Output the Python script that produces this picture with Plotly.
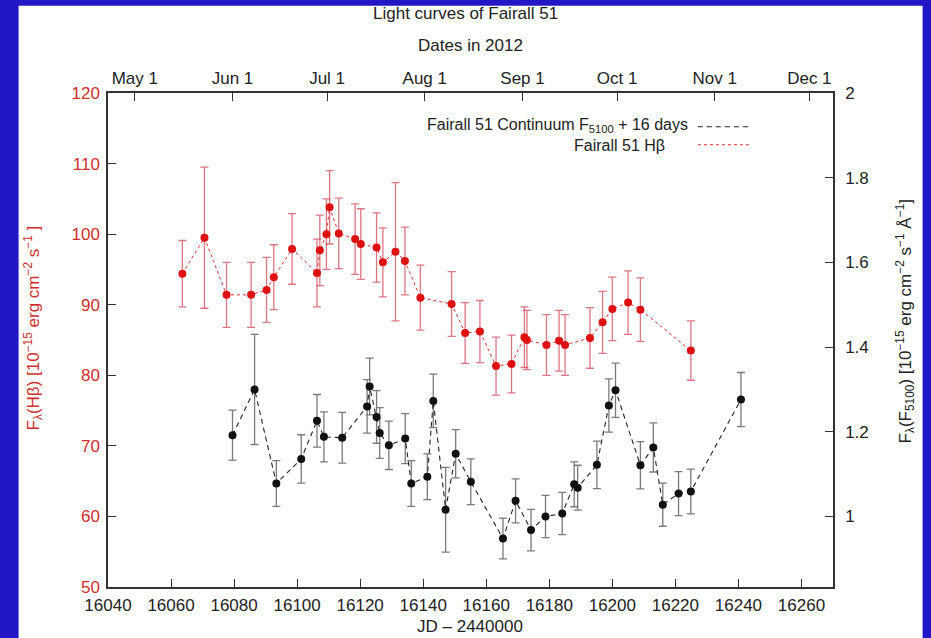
import plotly.graph_objects as go

# ---------------- data ----------------
hb_jd = [16063.6, 16070.6, 16077.6, 16085.4, 16090.3, 16092.6, 16098.4, 16106.3, 16107.2,
         16109.3, 16110.3, 16113.2, 16118.4, 16120.2, 16125.2, 16127.2, 16131.2, 16134.2,
         16139.1, 16149.0, 16153.3, 16158.0, 16163.1, 16168.0, 16172.1, 16172.9, 16179.1,
         16183.1, 16185.0, 16192.9, 16196.9, 16200.0, 16205.0, 16208.9, 16224.9]
hb_flux = [94.4, 99.5, 91.4, 91.4, 92.1, 93.9, 97.9, 94.5, 97.7,
           100.0, 103.8, 100.1, 99.3, 98.6, 98.1, 96.0, 97.5, 96.2,
           91.0, 90.1, 86.0, 86.2, 81.3, 81.6, 85.4, 85.0, 84.3,
           84.9, 84.3, 85.3, 87.5, 89.4, 90.3, 89.3, 83.5]
hb_err = [4.7, 10.0, 4.6, 4.6, 4.6, 4.6, 5.0, 4.8, 5.0,
          5.0, 5.2, 5.0, 5.0, 5.0, 4.9, 4.9, 9.8, 4.8,
          4.6, 4.6, 4.3, 4.4, 4.1, 4.1, 4.3, 4.2, 4.3,
          4.3, 4.3, 4.3, 4.4, 4.5, 4.5, 4.5, 4.2]

c_jd = [16079.5, 16086.5, 16093.4, 16101.3, 16106.3, 16108.5, 16114.3, 16122.2, 16123.0,
        16125.2, 16126.2, 16129.1, 16134.3, 16136.2, 16141.3, 16143.2, 16147.1, 16150.3,
        16155.1, 16165.3, 16169.3, 16174.2, 16178.8, 16184.1, 16187.9, 16189.0, 16195.1,
        16198.9, 16201.0, 16208.9, 16213.0, 16216.0, 16221.0, 16224.9, 16240.8]
c_flux = [1.192, 1.300, 1.078, 1.136, 1.226, 1.188, 1.186, 1.260, 1.307,
          1.235, 1.197, 1.168, 1.184, 1.078, 1.094, 1.273, 1.016, 1.148,
          1.082, 0.948, 1.037, 0.968, 1.000, 1.007, 1.076, 1.068, 1.122,
          1.262, 1.298, 1.121, 1.163, 1.028, 1.054, 1.059, 1.276]
c_err = [0.059, 0.13, 0.054, 0.057, 0.062, 0.059, 0.060, 0.063, 0.067,
         0.062, 0.060, 0.057, 0.059, 0.054, 0.054, 0.063, 0.10, 0.057,
         0.054, 0.048, 0.052, 0.049, 0.050, 0.050, 0.053, 0.053, 0.056,
         0.063, 0.064, 0.056, 0.058, 0.051, 0.052, 0.053, 0.064]

date_jd = [16048.5, 16079.5, 16109.5, 16140.5, 16171.5, 16201.5, 16232.5, 16262.5]
date_labels = ["May 1", "Jun 1", "Jul 1", "Aug 1", "Sep 1", "Oct 1", "Nov 1", "Dec 1"]

legend_cont = "Fairall 51 Continuum F<sub>5100</sub> + 16 days"
legend_hb = "Fairall 51 Hβ"

# ---------------- figure ----------------
FONT = "Liberation Sans, Arial, Helvetica, sans-serif"
RED = "#cf2e2e"
BLUE = "#2316c4"
FS = 17

fig = go.Figure()

fig.add_trace(go.Scatter(
    x=c_jd, y=c_flux, yaxis="y2", mode="lines+markers", name=legend_cont,
    line=dict(color="#222222", width=1.1, dash="5px,4px"),
    marker=dict(color="#111111", size=8),
    error_y=dict(type="data", array=c_err, color="#7a7a7a", thickness=1.3, width=4),
    showlegend=False,
))
fig.add_trace(go.Scatter(
    x=hb_jd, y=hb_flux, mode="lines+markers", name=legend_hb,
    line=dict(color="#e03030", width=1, dash="dot"),
    marker=dict(color="#dd1111", size=8),
    error_y=dict(type="data", array=hb_err, color="rgba(205,60,75,0.7)", thickness=1.3, width=4),
    showlegend=False,
))
# invisible trace anchoring the top date axis
fig.add_trace(go.Scatter(x=[date_jd[0]], y=[hb_flux[0]], xaxis="x2", mode="markers",
                         marker=dict(opacity=0), hoverinfo="skip", showlegend=False))

L, R, T, B = 107.5, 833.3, 93.3, 587.0
W, H = R - L, B - T


def px_x(p):
    return (p - L) / W


def px_y(p):
    return (B - p) / H


axis_common = dict(showgrid=False, zeroline=False, showline=True, linecolor="#333333",
                   linewidth=1.5, ticks="inside", ticklen=8, tickcolor="#333333",
                   tickwidth=1.2)

fig.update_layout(
    width=931, height=638,
    margin=dict(l=L, r=931 - R, t=T, b=638 - B),
    paper_bgcolor=BLUE, plot_bgcolor="white",
    font=dict(family=FONT, size=FS, color="#222222"),
    showlegend=False,
    xaxis=dict(range=[16040, 16270], dtick=20, tick0=16040, tickformat="d", **axis_common,
               ticklabelstandoff=2, tickfont=dict(size=FS, color="#222222")),
    xaxis2=dict(range=[16040, 16270], overlaying="x", side="top", tickmode="array",
                tickvals=date_jd, ticktext=date_labels, **axis_common,
                tickfont=dict(size=FS, color="#222222")),
    yaxis=dict(range=[50, 120], dtick=10, **axis_common, ticklabelstandoff=3,
               tickfont=dict(size=FS, color=RED)),
    yaxis2=dict(range=[0.8335, 2.0], dtick=0.2, tick0=1.0, overlaying="y", side="right",
                **axis_common, ticklabelstandoff=7,
                tickfont=dict(size=FS, color="#222222")),
)

# white page behind the chart (blue frame around it)
fig.add_shape(type="rect", xref="paper", yref="paper", layer="below",
              x0=px_x(18), x1=px_x(923), y0=px_y(638), y1=px_y(6),
              fillcolor="white", line=dict(width=0))

# legend (gnuplot style: text then sample)
fig.add_annotation(xref="paper", yref="paper", x=px_x(690), y=px_y(126), xanchor="right",
                   yanchor="middle", text=legend_cont, showarrow=False,
                   font=dict(size=16, color="#222222"))
fig.add_annotation(xref="paper", yref="paper", x=px_x(667), y=px_y(146), xanchor="right",
                   yanchor="middle", text=legend_hb, showarrow=False,
                   font=dict(size=16, color="#222222"))
fig.add_shape(type="line", xref="paper", yref="paper", x0=px_x(698), x1=px_x(751),
              y0=px_y(127), y1=px_y(127), line=dict(color="#222222", width=1.1, dash="5px,4px"))
fig.add_shape(type="line", xref="paper", yref="paper", x0=px_x(698), x1=px_x(751),
              y0=px_y(145), y1=px_y(145), line=dict(color="#e03030", width=1, dash="dot"))

# titles
fig.add_annotation(xref="paper", yref="paper", x=px_x(465), y=px_y(14), text="Light curves of Fairall 51",
                   showarrow=False, xanchor="center", yanchor="middle", font=dict(size=FS, color="#222222"))
fig.add_annotation(xref="paper", yref="paper", x=px_x(470), y=px_y(46), text="Dates in 2012",
                   showarrow=False, xanchor="center", yanchor="middle", font=dict(size=FS, color="#222222"))
fig.add_annotation(xref="paper", yref="paper", x=px_x(470), y=px_y(626), text="JD – 2440000",
                   showarrow=False, xanchor="center", yanchor="middle", font=dict(size=FS, color="#222222"))
fig.add_annotation(xref="paper", yref="paper", x=px_x(33), y=px_y(328), textangle=-90,
                   text="F<sub>λ</sub>(Hβ) [10<sup>−15</sup> erg cm<sup>−2</sup> s<sup>−1</sup> ]",
                   showarrow=False, xanchor="center", yanchor="middle", font=dict(size=FS, color=RED))
fig.add_annotation(xref="paper", yref="paper", x=px_x(906), y=px_y(322), textangle=-90,
                   text="F<sub>λ</sub>(F<sub>5100</sub>) [10<sup>−15</sup> erg cm<sup>−2</sup> s<sup>−1</sup> Å<sup>−1</sup>]",
                   showarrow=False, xanchor="center", yanchor="middle", font=dict(size=FS, color="#222222"))

fig.write_html("out.html")
